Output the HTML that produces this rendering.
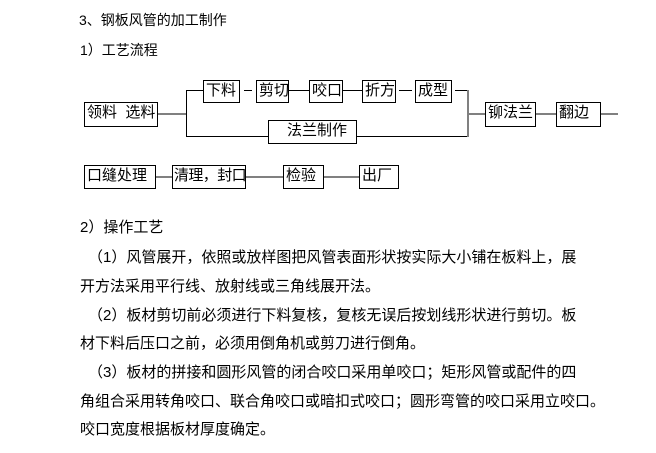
<!DOCTYPE html>
<html><head><meta charset="utf-8"><style>
body{margin:0;width:656px;height:453px;background:#fff;position:relative;overflow:hidden;font-family:"Liberation Sans","Noto Sans CJK SC",sans-serif;color:#000}
.t{position:absolute;font-size:15px;white-space:nowrap;line-height:18px}
.b{position:absolute;border:1px solid #000;box-sizing:border-box;font-size:15px;line-height:20px;padding-left:2px;white-space:nowrap;background:#fff;overflow:hidden}
.h{position:absolute;height:1px;background:#000}
.g{position:absolute;height:2px;background:#808080}
.v{position:absolute;width:1px;background:#000}
.vg{position:absolute;width:2px;background:#808080}
</style></head><body>
<div class="t" style="left:79px;top:11px;font-size:14px">3、钢板风管的加工制作</div>
<div class="t" style="left:80px;top:41px;font-size:14px">1）工艺流程</div>

<div class="g" style="left:158px;top:113px;width:28px"></div>
<div class="v" style="left:186px;top:90px;height:47px"></div>
<div class="h" style="left:186px;top:90px;width:17px"></div>
<div class="h" style="left:186px;top:136px;width:82px"></div>
<div class="h" style="left:244px;top:90px;width:8px"></div>
<div class="h" style="left:289px;top:90px;width:20px"></div>
<div class="h" style="left:343px;top:90px;width:19px"></div>
<div class="h" style="left:399px;top:90px;width:13px"></div>
<div class="h" style="left:455px;top:90px;width:12px"></div>
<div class="h" style="left:357px;top:136px;width:111px"></div>
<div class="vg" style="left:467px;top:90px;height:47px"></div>
<div class="g" style="left:468px;top:113px;width:17px"></div>
<div class="g" style="left:536px;top:113px;width:20px"></div>
<div class="g" style="left:601px;top:113px;width:17px"></div>

<div class="b" style="left:84px;top:102px;width:74px;height:25px">领料&nbsp;&nbsp;选料</div>
<div class="b" style="left:203px;top:80px;width:37px;height:23px">下料</div>
<div class="b" style="left:256px;top:80px;width:33px;height:23px">剪切</div>
<div class="b" style="left:309px;top:80px;width:34px;height:23px">咬口</div>
<div class="b" style="left:362px;top:80px;width:34px;height:23px">折方</div>
<div class="b" style="left:415px;top:80px;width:37px;height:23px">成型</div>
<div class="b" style="left:268px;top:120px;width:89px;height:24px;padding-left:18px">法兰制作</div>
<div class="b" style="left:485px;top:102px;width:51px;height:25px">铆法兰</div>
<div class="b" style="left:556px;top:102px;width:45px;height:25px">翻边</div>

<div class="g" style="left:156px;top:176px;width:16px"></div>
<div class="g" style="left:246px;top:176px;width:37px"></div>
<div class="g" style="left:324px;top:176px;width:35px"></div>
<div class="b" style="left:84px;top:165px;width:72px;height:24px">口缝处理</div>
<div class="b" style="left:172px;top:165px;width:74px;height:24px;padding-left:1px;letter-spacing:-0.6px">清理，封口</div>
<div class="b" style="left:283px;top:165px;width:41px;height:24px">检验</div>
<div class="b" style="left:359px;top:165px;width:40px;height:24px">出厂</div>

<div class="t" style="left:80px;top:219px">2）操作工艺</div>
<div class="t" style="left:88px;top:249px">（1）风管展开，依照或放样图把风管表面形状按实际大小铺在板料上，展</div>
<div class="t" style="left:80px;top:278px">开方法采用平行线、放射线或三角线展开法。</div>
<div class="t" style="left:88px;top:307px">（2）板材剪切前必须进行下料复核，复核无误后按划线形状进行剪切。板</div>
<div class="t" style="left:80px;top:335px">材下料后压口之前，必须用倒角机或剪刀进行倒角。</div>
<div class="t" style="left:88px;top:364px">（3）板材的拼接和圆形风管的闭合咬口采用单咬口；矩形风管或配件的四</div>
<div class="t" style="left:80px;top:393px">角组合采用转角咬口、联合角咬口或暗扣式咬口；圆形弯管的咬口采用立咬口。</div>
<div class="t" style="left:80px;top:421px">咬口宽度根据板材厚度确定。</div>
</body></html>
